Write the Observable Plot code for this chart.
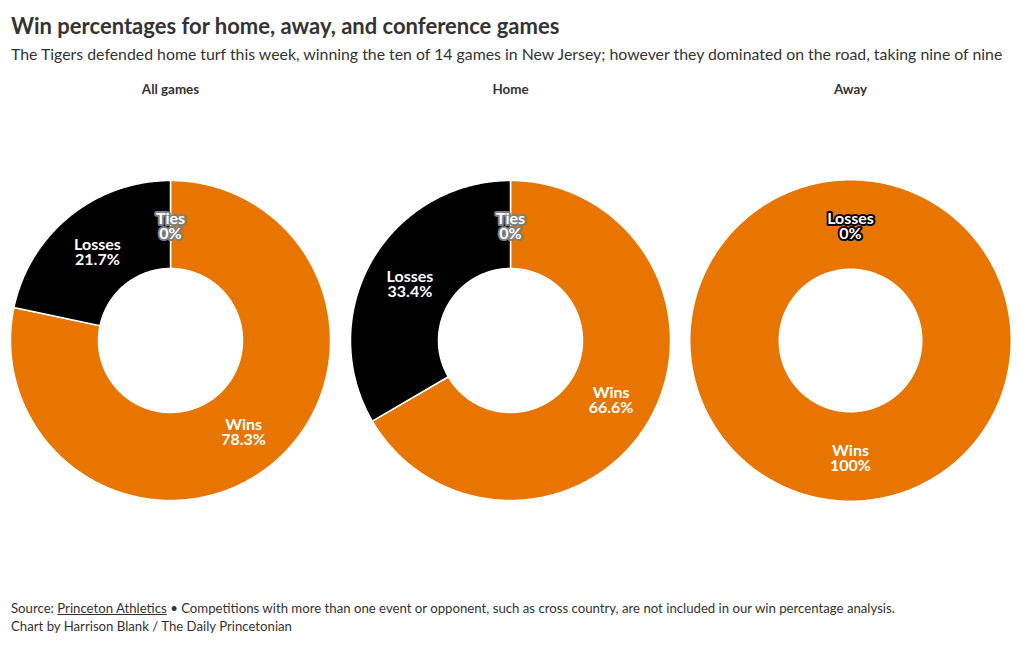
<!DOCTYPE html>
<html><head><meta charset="utf-8">
<script src="https://cdn.jsdelivr.net/npm/d3@7"></script>
<script src="https://cdn.jsdelivr.net/npm/@observablehq/plot@0.6"></script>
<style>
html,body{margin:0;padding:0;background:#fff;}
body{width:1020px;height:650px;position:relative;overflow:hidden;font-family:"Lato","Open Sans",sans-serif;color:#333;}
#title{position:absolute;left:11px;top:12px;font-size:22px;line-height:28px;font-weight:700;color:#333;white-space:nowrap;}
#sub{position:absolute;left:11px;top:44px;font-size:15.85px;line-height:20px;color:#333;white-space:nowrap;}
#chart{position:absolute;left:0;top:70px;}
#foot{position:absolute;left:11px;top:599px;font-size:13.2px;line-height:18px;color:#333;white-space:nowrap;}
#foot u{text-decoration:underline;}
</style></head><body>
<div id="title">Win percentages for home, away, and conference games</div>
<div id="sub">The Tigers defended home turf this week, winning the ten of 14 games in New Jersey; however they dominated on the road, taking nine of nine</div>
<div id="chart"></div>
<div id="foot">Source: <u>Princeton Athletics</u> • Competitions with more than one event or opponent, such as cross country, are not included in our win percentage analysis.<br>Chart by Harrison Blank / The Daily Princetonian</div>
<script>
const groups = ["All games", "Home", "Away"];
const outcomes = ["Wins", "Losses", "Ties"];
const winPct = [78.3, 66.6, 100];
const lossPct = [21.7, 33.4, 0];
const tiePct = [0, 0, null]; // no ties category for away games
const colors = ["#e77500", "#000000", "#808080"];

const innerR = 0.45, outerR = 1;
const slices = [];
groups.forEach((g, i) => {
  const vals = [winPct[i], lossPct[i], tiePct[i]];
  outcomes.forEach((o, j) => {
    if (vals[j] !== null) slices.push({group: g, outcome: o, value: vals[j]});
  });
});

const polys = [];
const labels = [];
groups.forEach(g => {
  const rows = slices.filter(d => d.group === g);
  const arcs = d3.pie().sort(null).value(d => d.value)(rows);
  arcs.forEach(a => {
    const d = a.data;
    const key = d.group + "|" + d.outcome;
    const span = a.endAngle - a.startAngle;
    const full = span > 2 * Math.PI - 1e-6;
    if (span > 1e-6) {
      const n = Math.max(2, Math.ceil(span / 0.01));
      for (let k = 0; k <= n; k++) {
        const t = a.startAngle + span * k / n;
        polys.push({key, full, group: d.group, outcome: d.outcome, x: outerR * Math.sin(t), y: outerR * Math.cos(t)});
      }
      for (let k = n; k >= 0; k--) {
        const t = a.startAngle + span * k / n;
        polys.push({key, full, group: d.group, outcome: d.outcome, x: innerR * Math.sin(t), y: innerR * Math.cos(t)});
      }
    }
    const mid = (a.startAngle + a.endAngle) / 2;
    const mr = (innerR + outerR) / 2;
    labels.push({group: d.group, outcome: d.outcome,
      x: mr * Math.sin(mid), y: mr * Math.cos(mid),
      text: d.outcome + "\n" + d3.format("~")(d.value) + "%"});
  });
});

const R = 160;
const chart = Plot.plot({
  width: 1020,
  height: 520,
  marginLeft: 0, marginRight: 0, marginTop: 30, marginBottom: 0,
  style: {fontFamily: "Lato, 'Open Sans', sans-serif", background: "transparent"},
  x: {domain: [-170 / R, 170 / R], axis: null},
  y: {domain: [-(520 - 270) / R, (270 - 30) / R], axis: null},
  fx: {domain: groups, padding: 0, label: null, axis: null},
  color: {domain: outcomes, range: colors},
  marks: [
    Plot.axisFx({anchor: "top", tickSize: 0, tickPadding: 7, label: null, fontSize: 13.4, fontWeight: "bold", fill: "#333"}),
    Plot.line(polys.filter(d => d.full), {x: "x", y: "y", z: "key", fx: "group", fill: "outcome", curve: "linear-closed"}),
    Plot.line(polys.filter(d => !d.full), {x: "x", y: "y", z: "key", fx: "group", fill: "outcome", stroke: "white", strokeWidth: 1.5, strokeLinejoin: "round", curve: "linear-closed"}),
    Plot.text(labels, {x: "x", y: "y", fx: "group", text: "text", dy: 2, fill: "white", stroke: "outcome", strokeWidth: 4, strokeLinejoin: "round", fontSize: 16, fontWeight: "bold", lineHeight: 0.95})
  ]
});
document.getElementById("chart").appendChild(chart);
</script>
</body></html>
